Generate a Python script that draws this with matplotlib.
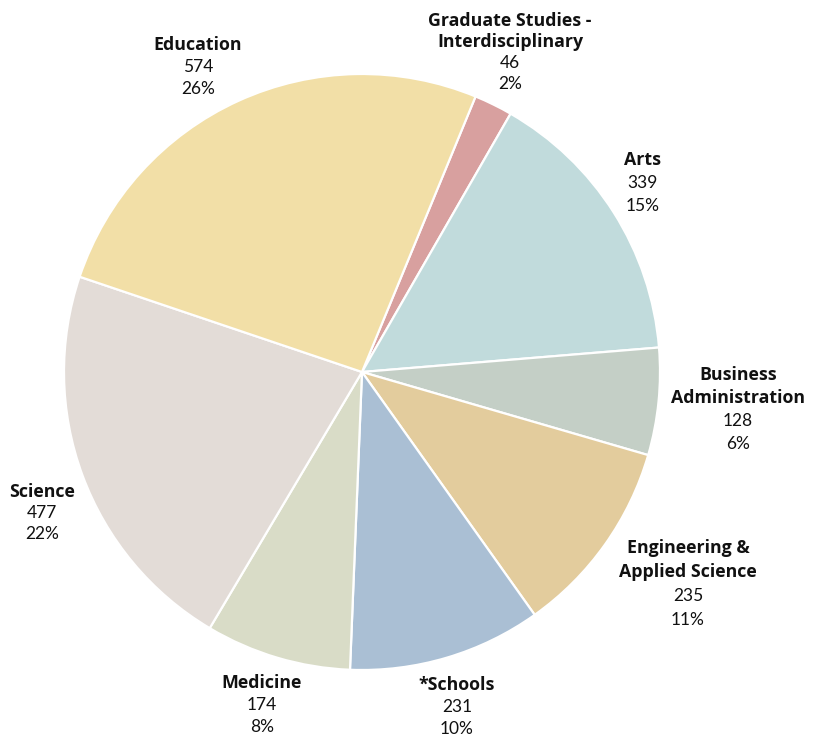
import matplotlib
matplotlib.use("Agg")
import matplotlib.pyplot as plt

plt.rcParams['font.family'] = ['Lato', 'DejaVu Sans']

categories = ["Graduate Studies -\nInterdisciplinary", "Arts", "Business\nAdministration",
              "Engineering &\nApplied Science", "*Schools", "Medicine", "Science", "Education"]
values = [46, 339, 128, 235, 231, 174, 477, 574]
colors = ["#D8A09F", "#C1DBDC", "#C4CFC6", "#E3CC9D", "#AABFD4", "#D9DCC7", "#E3DCD7", "#F2DFA7"]

# label anchor positions (pixel coords of the top line centre) and line step
label_px = [(510, 21), (643, 160), (738, 375), (688, 548), (457, 685), (262, 683), (42, 492), (198, 45)]
label_step = [21, 23, 23, 24, 22, 22, 21, 22]

W, H = 814, 744
CX, CY, R = 362, 372, 298

fig = plt.figure(figsize=(W / 100, H / 100), dpi=100)
ax = fig.add_axes([0, 0, 1, 1])

ax.pie(values, colors=colors, startangle=67.6, counterclock=False, radius=1.0,
       wedgeprops=dict(edgecolor='white', linewidth=1.6))
ax.set_aspect('equal')
ax.set_xlim(-CX / R, (W - CX) / R)
ax.set_ylim(-(H - CY) / R, CY / R)
ax.axis('off')

total = sum(values)

def to_data(px, py):
    return (px - CX) / R, (CY - py) / R

for cat, val, (px, py), step in zip(categories, values, label_px, label_step):
    lines = cat.split("\n")
    y = py
    for ln in lines:
        x, yy = to_data(px, y)
        ax.text(x, yy, ln, ha='center', va='center', fontsize=12.8, fontweight='bold',
                family=['Open Sans', 'DejaVu Sans'], color='#111111')
        y += step
    x, yy = to_data(px, y)
    ax.text(x, yy, f"{val}", ha='center', va='center', fontsize=12.5, color='#111111')
    y += step
    x, yy = to_data(px, y)
    ax.text(x, yy, f"{round(val / total * 100)}%", ha='center', va='center', fontsize=12.5, color='#111111')

fig.savefig("out.png", dpi=100)
